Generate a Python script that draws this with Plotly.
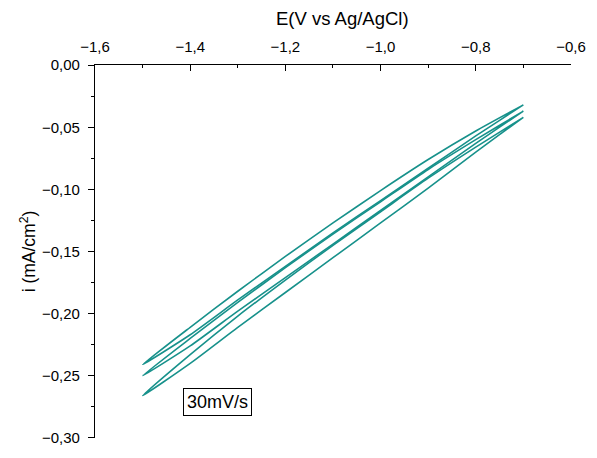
import plotly.graph_objects as go

# Potential grid (V vs Ag/AgCl)
E = [-1.5, -1.4, -1.3, -1.2, -1.1, -1.0, -0.9, -0.8, -0.7]

# Current density (mA/cm2) for each cycle: upper and lower branch
c1_up = [-0.241, -0.211, -0.182, -0.154, -0.127, -0.101, -0.076, -0.053, -0.032]
c1_dn = [-0.241, -0.217, -0.189, -0.162, -0.135, -0.109, -0.083, -0.057, -0.032]
c2_up = [-0.250, -0.220, -0.191, -0.163, -0.136, -0.110, -0.084, -0.060, -0.037]
c2_dn = [-0.250, -0.226, -0.198, -0.171, -0.144, -0.117, -0.090, -0.063, -0.037]
c3_up = [-0.266, -0.233, -0.202, -0.173, -0.145, -0.118, -0.091, -0.066, -0.042]
c3_dn = [-0.266, -0.240, -0.211, -0.183, -0.155, -0.127, -0.099, -0.070, -0.042]

cycles = [(c1_up, c1_dn), (c2_up, c2_dn), (c3_up, c3_dn)]

color = "#17918b"
fig = go.Figure()
for up, dn in cycles:
    xs = E + E[::-1]
    ys = up + dn[::-1]
    fig.add_trace(go.Scatter(x=xs, y=ys, mode="lines",
                             line=dict(color=color, width=1.6, shape="spline", smoothing=0.6),
                             showlegend=False, hoverinfo="skip"))

font = "Liberation Sans, Arial, sans-serif"
fig.update_layout(
    width=597, height=458,
    margin=dict(l=95, r=26, t=65, b=20),
    paper_bgcolor="white", plot_bgcolor="white",
    separators=", ",
    font=dict(family=font, size=15, color="black"),
    xaxis=dict(
        side="top", range=[-1.6, -0.5999], dtick=0.2, tick0=-1.6, tickformat=".1f",
        showgrid=False, zeroline=False, showline=True, linecolor="black", linewidth=1.3,
        ticks="inside", ticklen=6, tickwidth=1.3, tickcolor="black",
        minor=dict(dtick=0.1, ticks="inside", ticklen=3, tickwidth=1, tickcolor="black"),
        tickfont=dict(size=15), ticklabelstandoff=6, ticklabeloverflow="allow",
        automargin=False,
    ),
    yaxis=dict(
        range=[-0.3001, 0.0001], dtick=0.05, tick0=0, tickformat=".2f",
        showgrid=False, zeroline=False, showline=True, linecolor="black", linewidth=1.3,
        ticks="outside", ticklen=6, tickwidth=1.3, tickcolor="black",
        minor=dict(dtick=0.025, ticks="outside", ticklen=3, tickwidth=1, tickcolor="black"),
        title=dict(text="i (mA/cm<sup>2</sup>)", font=dict(size=17.5), standoff=1),
        tickfont=dict(size=15), ticklabelstandoff=5, ticklabeloverflow="allow",
        automargin=False,
    ),
    annotations=[
        dict(x=0.521, y=1.126, xref="paper", yref="paper", text="E(V vs Ag/AgCl)",
             showarrow=False, xanchor="center", yanchor="middle",
             font=dict(size=18.5, family=font, color="black")),
        dict(x=-1.3433, y=-0.2714, xref="x", yref="y", text="30mV/s", showarrow=False,
             font=dict(size=18, family=font, color="black"),
             bordercolor="black", borderwidth=1, borderpad=3, bgcolor="white"),
    ],
)

fig.write_html("out.html")
